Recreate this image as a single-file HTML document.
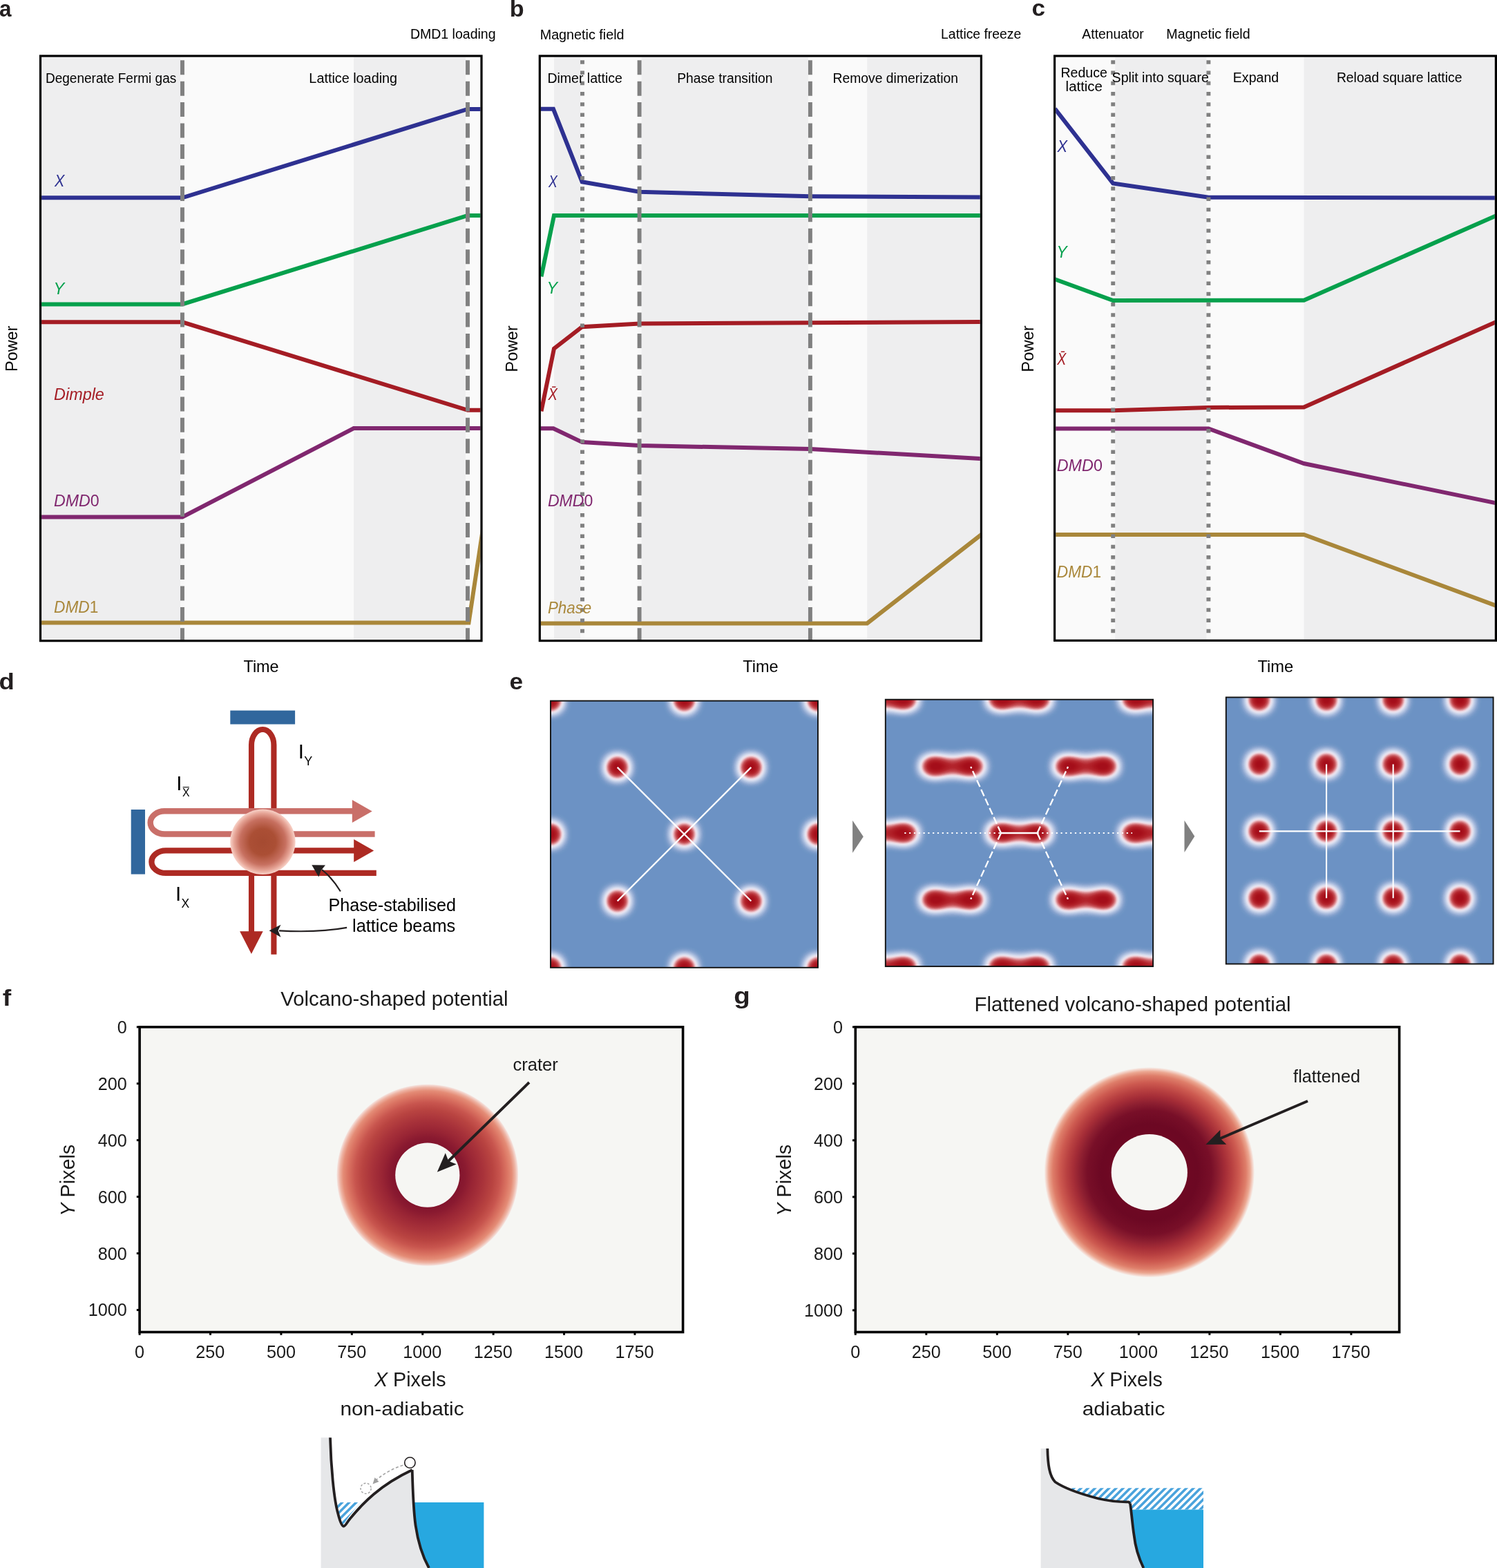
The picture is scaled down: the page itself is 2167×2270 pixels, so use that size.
<!DOCTYPE html>
<html><head><meta charset="utf-8"><title>Figure</title>
<style>
html,body{margin:0;padding:0;background:#fff;}
body{width:2167px;height:2270px;overflow:hidden;}
svg{display:block;font-family:'Liberation Sans', Arial, Helvetica, sans-serif;}
</style></head><body>
<svg xmlns="http://www.w3.org/2000/svg" width="2167" height="2270" viewBox="0 0 2167 2270">
<defs>
<clipPath id="clip58"><rect x="60.1" y="82.6" width="635.3" height="843.5"/></clipPath>
<clipPath id="clip781"><rect x="782.9" y="82.6" width="635.9" height="843.4"/></clipPath>
<clipPath id="clip1526"><rect x="1528.2" y="82.6" width="635.6" height="843.1"/></clipPath>
<radialGradient id="cloud" cx="0.5" cy="0.5" r="0.5"><stop offset="0" stop-color="#a54a31"/><stop offset="0.4" stop-color="#ab4f35"/><stop offset="0.7" stop-color="#c77060"/><stop offset="0.88" stop-color="#e6a496"/><stop offset="1" stop-color="#f8d2c8"/></radialGradient>
<filter id="latf" x="0" y="0" width="1" height="1" filterUnits="objectBoundingBox" color-interpolation-filters="sRGB"><feGaussianBlur stdDeviation="9"/><feComponentTransfer><feFuncR type="gamma" amplitude="1" exponent="0.4" offset="0"/><feFuncG type="gamma" amplitude="1" exponent="0.4" offset="0"/><feFuncB type="gamma" amplitude="1" exponent="0.4" offset="0"/></feComponentTransfer><feComponentTransfer><feFuncR type="table" tableValues="0.424 0.424 0.424 0.424 0.424 0.424 0.424 0.424 0.424 0.424 0.424 0.424 0.424 0.424 0.424 0.424 0.424 0.424 0.424 0.424 0.424 0.427 0.429 0.431 0.434 0.436 0.439 0.441 0.443 0.446 0.448 0.451 0.456 0.462 0.468 0.475 0.481 0.487 0.493 0.499 0.505 0.511 0.518 0.524 0.530 0.539 0.549 0.558 0.567 0.576 0.586 0.595 0.604 0.614 0.623 0.632 0.641 0.651 0.662 0.672 0.683 0.694 0.704 0.715 0.726 0.736 0.747 0.758 0.768 0.779 0.790 0.801 0.812 0.823 0.833 0.844 0.855 0.866 0.875 0.883 0.891 0.898 0.906 0.914 0.922 0.926 0.927 0.928 0.929 0.931 0.932 0.933 0.928 0.920 0.912 0.904 0.895 0.887 0.879 0.869 0.860 0.850 0.840 0.830 0.820 0.810 0.800 0.791 0.781 0.773 0.766 0.759 0.753 0.746 0.739 0.733 0.726 0.719 0.713 0.706 0.702 0.698 0.694 0.690 0.686 0.682 0.678 0.675 0.671 0.667 0.662 0.658 0.654 0.650 0.647 0.647 0.647 0.647 0.647 0.647 0.647 0.647 0.647 0.647 0.647 0.647 0.647 0.647 0.647 0.647 0.647 0.647 0.647 0.647 0.647 0.647 0.647 0.647 0.647 0.647"/><feFuncG type="table" tableValues="0.576 0.576 0.576 0.576 0.576 0.576 0.576 0.576 0.576 0.576 0.576 0.576 0.576 0.576 0.576 0.576 0.576 0.576 0.576 0.576 0.577 0.578 0.580 0.581 0.582 0.584 0.585 0.586 0.588 0.589 0.591 0.592 0.595 0.599 0.603 0.606 0.610 0.614 0.617 0.621 0.625 0.628 0.632 0.636 0.640 0.646 0.653 0.660 0.667 0.674 0.680 0.687 0.694 0.701 0.708 0.714 0.721 0.729 0.736 0.744 0.752 0.760 0.768 0.776 0.784 0.792 0.800 0.808 0.815 0.822 0.829 0.836 0.842 0.849 0.856 0.862 0.869 0.876 0.879 0.880 0.881 0.882 0.884 0.885 0.886 0.878 0.864 0.849 0.834 0.820 0.805 0.790 0.766 0.737 0.708 0.678 0.649 0.620 0.591 0.564 0.537 0.511 0.484 0.458 0.431 0.405 0.378 0.352 0.325 0.305 0.289 0.274 0.258 0.243 0.227 0.212 0.196 0.180 0.165 0.149 0.142 0.135 0.128 0.121 0.114 0.107 0.100 0.093 0.086 0.079 0.073 0.068 0.063 0.058 0.055 0.055 0.055 0.055 0.055 0.055 0.055 0.055 0.055 0.055 0.055 0.055 0.055 0.055 0.055 0.055 0.055 0.055 0.055 0.055 0.055 0.055 0.055 0.055 0.055 0.055"/><feFuncB type="table" tableValues="0.769 0.769 0.769 0.769 0.769 0.769 0.769 0.769 0.769 0.769 0.769 0.769 0.769 0.769 0.769 0.769 0.769 0.769 0.769 0.769 0.769 0.770 0.771 0.772 0.773 0.774 0.775 0.776 0.777 0.778 0.779 0.780 0.782 0.784 0.786 0.789 0.791 0.793 0.795 0.797 0.799 0.802 0.804 0.806 0.808 0.812 0.817 0.821 0.825 0.830 0.834 0.838 0.843 0.847 0.851 0.856 0.860 0.864 0.868 0.873 0.877 0.881 0.885 0.889 0.893 0.897 0.901 0.906 0.910 0.913 0.916 0.920 0.923 0.926 0.930 0.933 0.936 0.940 0.940 0.938 0.935 0.933 0.931 0.929 0.927 0.917 0.901 0.885 0.869 0.854 0.838 0.822 0.797 0.767 0.736 0.706 0.675 0.645 0.614 0.587 0.561 0.534 0.508 0.481 0.455 0.428 0.402 0.375 0.349 0.329 0.314 0.299 0.284 0.270 0.255 0.240 0.225 0.210 0.196 0.181 0.174 0.168 0.162 0.155 0.149 0.143 0.137 0.130 0.124 0.118 0.114 0.111 0.108 0.104 0.102 0.102 0.102 0.102 0.102 0.102 0.102 0.102 0.102 0.102 0.102 0.102 0.102 0.102 0.102 0.102 0.102 0.102 0.102 0.102 0.102 0.102 0.102 0.102 0.102 0.102"/><feFuncA type="linear" slope="0" intercept="1"/></feComponentTransfer></filter>
<clipPath id="eclip1"><rect x="797" y="1014.6" width="387" height="386.2"/></clipPath>
<clipPath id="eclip2"><rect x="1281.8" y="1012.7" width="387.3" height="386.4"/></clipPath>
<clipPath id="eclip3"><rect x="1774.8" y="1009.5" width="386.8" height="386"/></clipPath>
<radialGradient id="donf" cx="0.5" cy="0.5" r="0.5"><stop offset="0.0000" stop-color="#82142d"/><stop offset="0.3490" stop-color="#82142d"/><stop offset="0.4173" stop-color="#8a1a30"/><stop offset="0.4932" stop-color="#982434"/><stop offset="0.6070" stop-color="#a8323a"/><stop offset="0.7208" stop-color="#b94441"/><stop offset="0.7967" stop-color="#c8554e"/><stop offset="0.8725" stop-color="#da7362"/><stop offset="0.9256" stop-color="#e48c76"/><stop offset="0.9636" stop-color="#eeb4a4"/><stop offset="0.9901" stop-color="#f4dcd6"/><stop offset="1.0000" stop-color="#f6f6f3"/></radialGradient>
<radialGradient id="dong" cx="0.5" cy="0.5" r="0.5"><stop offset="0.0000" stop-color="#6e0823"/><stop offset="0.3574" stop-color="#6e0823"/><stop offset="0.4590" stop-color="#6c0823"/><stop offset="0.5902" stop-color="#780f28"/><stop offset="0.6557" stop-color="#8c1e30"/><stop offset="0.7213" stop-color="#a52d37"/><stop offset="0.7869" stop-color="#b94141"/><stop offset="0.8525" stop-color="#cd5a50"/><stop offset="0.9180" stop-color="#de7d69"/><stop offset="0.9574" stop-color="#eba690"/><stop offset="0.9836" stop-color="#f4d6cc"/><stop offset="1.0000" stop-color="#f6f6f3"/></radialGradient>
<pattern id="hatch" patternUnits="userSpaceOnUse" width="7.2" height="7.2" patternTransform="rotate(45)"><rect width="3.6" height="7.2" fill="#4aa3dc"/></pattern>
</defs>
<rect width="2167" height="2270" fill="#fff"/>
<text x="-0.92" y="23.7" font-size="32.5" fill="#231f20" textLength="17.52" lengthAdjust="spacingAndGlyphs" font-weight="bold">a</text>
<rect x="60" y="82.6" width="204" height="843.5" fill="#eeeeef"/>
<rect x="264" y="82.6" width="248" height="843.5" fill="#fafafa"/>
<rect x="512" y="82.6" width="165" height="843.5" fill="#eeeeef"/>
<rect x="677" y="82.6" width="19" height="843.5" fill="#fafafa"/>
<line x1="264" y1="82.6" x2="264" y2="926.1" stroke="#f8f8f8" stroke-width="6"/>
<line x1="677" y1="82.6" x2="677" y2="926.1" stroke="#f8f8f8" stroke-width="6"/>
<polyline points="58,286.3 264,286.3 677,158 699,158" fill="none" stroke="#2e3191" stroke-width="6" stroke-linejoin="miter" stroke-miterlimit="4" clip-path="url(#clip58)"/>
<polyline points="58,440.4 264,440.4 677,312 699,312" fill="none" stroke="#05a04c" stroke-width="6" stroke-linejoin="miter" stroke-miterlimit="4" clip-path="url(#clip58)"/>
<polyline points="58,466.3 264,466.3 677,593.8 699,593.8" fill="none" stroke="#a41c24" stroke-width="6" stroke-linejoin="miter" stroke-miterlimit="4" clip-path="url(#clip58)"/>
<polyline points="58,748.5 264,748.5 512,620 699,620" fill="none" stroke="#80276f" stroke-width="6" stroke-linejoin="miter" stroke-miterlimit="4" clip-path="url(#clip58)"/>
<polyline points="58,901.6 678.5,901.6 699,766" fill="none" stroke="#a9873a" stroke-width="6" stroke-linejoin="miter" stroke-miterlimit="4" clip-path="url(#clip58)"/>
<line x1="264" y1="87.2" x2="264" y2="926.1" stroke="#808080" stroke-width="5.9" stroke-dasharray="21 9.45"/>
<line x1="677" y1="87.2" x2="677" y2="926.1" stroke="#808080" stroke-width="5.9" stroke-dasharray="21 9.45"/>
<rect x="58.5" y="81" width="638.5" height="846.7" fill="none" stroke="#000" stroke-width="3.2"/>
<text x="78.91" y="270.3" font-size="24.2" fill="#2e3191" textLength="14.41" lengthAdjust="spacingAndGlyphs" font-style="italic">X</text>
<text x="77.55" y="425.6" font-size="24.2" fill="#05a04c" textLength="15.74" lengthAdjust="spacingAndGlyphs" font-style="italic">Y</text>
<text x="78.08" y="579.1" font-size="24.2" fill="#a41c24" textLength="72.79" lengthAdjust="spacingAndGlyphs" font-style="italic">Dimple</text>
<text x="77.99" y="733" font-size="24.2" fill="#80276f" textLength="65.72" lengthAdjust="spacingAndGlyphs"><tspan font-style="italic">DMD</tspan><tspan font-style="normal">0</tspan></text>
<text x="78" y="887.4" font-size="24.2" fill="#a9873a" textLength="64.31" lengthAdjust="spacingAndGlyphs"><tspan font-style="italic">DMD</tspan><tspan font-style="normal">1</tspan></text>
<text x="65.94" y="119.7" font-size="19.5" fill="#000" textLength="189.35" lengthAdjust="spacingAndGlyphs">Degenerate Fermi gas</text>
<text x="447.38" y="119.8" font-size="19.5" fill="#000" textLength="127.7" lengthAdjust="spacingAndGlyphs">Lattice loading</text>
<text x="593.9" y="56" font-size="19.5" fill="#000" textLength="123.66" lengthAdjust="spacingAndGlyphs">DMD1 loading</text>
<text transform="translate(25.4,504) rotate(-90)" x="-33.92" y="0" font-size="24" fill="#000" textLength="66.31" lengthAdjust="spacingAndGlyphs">Power</text>
<text x="352.48" y="973.2" font-size="24" fill="#000" textLength="51.14" lengthAdjust="spacingAndGlyphs">Time</text>
<text x="737.65" y="23.5" font-size="32.5" fill="#231f20" textLength="20.85" lengthAdjust="spacingAndGlyphs" font-weight="bold">b</text>
<rect x="782" y="82.6" width="20" height="843.4" fill="#fafafa"/>
<rect x="802" y="82.6" width="41" height="843.4" fill="#eeeeef"/>
<rect x="843" y="82.6" width="82.6" height="843.4" fill="#fafafa"/>
<rect x="925.6" y="82.6" width="247.4" height="843.4" fill="#eeeeef"/>
<rect x="1173" y="82.6" width="82.2" height="843.4" fill="#fafafa"/>
<rect x="1255.2" y="82.6" width="164.3" height="843.4" fill="#eeeeef"/>
<line x1="843" y1="82.6" x2="843" y2="926" stroke="#f8f8f8" stroke-width="6"/>
<line x1="925.6" y1="82.6" x2="925.6" y2="926" stroke="#f8f8f8" stroke-width="6"/>
<line x1="1172.9" y1="82.6" x2="1172.9" y2="926" stroke="#f8f8f8" stroke-width="6"/>
<polyline points="780,157.8 801,157.8 842.6,263.3 925.6,277.8 1173,284.2 1422,285.5" fill="none" stroke="#2e3191" stroke-width="6" stroke-linejoin="miter" stroke-miterlimit="4" clip-path="url(#clip781)"/>
<polyline points="783.5,400.3 802,312 1422,312" fill="none" stroke="#05a04c" stroke-width="6" stroke-linejoin="miter" stroke-miterlimit="4" clip-path="url(#clip781)"/>
<polyline points="783.5,595.4 802,504.7 842.6,473.2 925.6,468.5 1422,466" fill="none" stroke="#a41c24" stroke-width="6" stroke-linejoin="miter" stroke-miterlimit="4" clip-path="url(#clip781)"/>
<polyline points="780,620.3 801,620.3 842.6,640.1 925.6,645 1173,650.1 1422,664.2" fill="none" stroke="#80276f" stroke-width="6" stroke-linejoin="miter" stroke-miterlimit="4" clip-path="url(#clip781)"/>
<polyline points="780,902.4 1255.2,902.4 1422,772.8" fill="none" stroke="#a9873a" stroke-width="6" stroke-linejoin="miter" stroke-miterlimit="4" clip-path="url(#clip781)"/>
<line x1="843" y1="87.2" x2="843" y2="926" stroke="#808080" stroke-width="5.9" stroke-dasharray="5.6 9.65"/>
<line x1="925.6" y1="87.2" x2="925.6" y2="926" stroke="#808080" stroke-width="5.9" stroke-dasharray="21 9.45"/>
<line x1="1172.9" y1="87.2" x2="1172.9" y2="926" stroke="#808080" stroke-width="5.9" stroke-dasharray="21 9.45"/>
<rect x="781.3" y="81" width="639.1" height="846.6" fill="none" stroke="#000" stroke-width="3.2"/>
<text x="793.97" y="270.8" font-size="24.2" fill="#2e3191" textLength="12.83" lengthAdjust="spacingAndGlyphs" font-style="italic">X</text>
<text x="791.58" y="424.8" font-size="24.2" fill="#05a04c" textLength="15.52" lengthAdjust="spacingAndGlyphs" font-style="italic">Y</text>
<text x="793.38" y="579.4" font-size="24.2" fill="#a41c24" textLength="13.39" lengthAdjust="spacingAndGlyphs" font-style="italic">X̄</text>
<text x="792.89" y="732.9" font-size="24.2" fill="#80276f" textLength="65.51" lengthAdjust="spacingAndGlyphs"><tspan font-style="italic">DMD</tspan><tspan font-style="normal">0</tspan></text>
<text x="792.91" y="887.6" font-size="24.2" fill="#a9873a" textLength="63.32" lengthAdjust="spacingAndGlyphs" font-style="italic">Phase</text>
<text x="781.68" y="56.5" font-size="19.5" fill="#000" textLength="121.89" lengthAdjust="spacingAndGlyphs">Magnetic field</text>
<text x="1362.11" y="55.9" font-size="19.5" fill="#000" textLength="116.15" lengthAdjust="spacingAndGlyphs">Lattice freeze</text>
<text x="792.4" y="119.8" font-size="19.5" fill="#000" textLength="108.47" lengthAdjust="spacingAndGlyphs">Dimer lattice</text>
<text x="980.22" y="119.85" font-size="19.5" fill="#000" textLength="138.13" lengthAdjust="spacingAndGlyphs">Phase transition</text>
<text x="1205.62" y="119.8" font-size="19.5" fill="#000" textLength="181.34" lengthAdjust="spacingAndGlyphs">Remove dimerization</text>
<text transform="translate(748.8,504.2) rotate(-90)" x="-34.45" y="0" font-size="24" fill="#000" textLength="67.34" lengthAdjust="spacingAndGlyphs">Power</text>
<text x="1075.28" y="973.1" font-size="24" fill="#000" textLength="51.45" lengthAdjust="spacingAndGlyphs">Time</text>
<text x="1493.53" y="23" font-size="32.5" fill="#231f20" textLength="19.5" lengthAdjust="spacingAndGlyphs" font-weight="bold">c</text>
<rect x="1528" y="82.6" width="83.2" height="843.1" fill="#fafafa"/>
<rect x="1611.2" y="82.6" width="138.2" height="843.1" fill="#eeeeef"/>
<rect x="1749.4" y="82.6" width="138.1" height="843.1" fill="#fafafa"/>
<rect x="1887.5" y="82.6" width="276.5" height="843.1" fill="#eeeeef"/>
<line x1="1611.2" y1="82.6" x2="1611.2" y2="925.7" stroke="#f8f8f8" stroke-width="6"/>
<line x1="1749.4" y1="82.6" x2="1749.4" y2="925.7" stroke="#f8f8f8" stroke-width="6"/>
<polyline points="1527,157.3 1611.2,265.5 1749.4,285.7 2167,286.4" fill="none" stroke="#2e3191" stroke-width="6" stroke-linejoin="miter" stroke-miterlimit="4" clip-path="url(#clip1526)"/>
<polyline points="1527,404.2 1611.2,435 1887.5,434.7 2167,311.7" fill="none" stroke="#05a04c" stroke-width="6" stroke-linejoin="miter" stroke-miterlimit="4" clip-path="url(#clip1526)"/>
<polyline points="1527,594.3 1611.2,594.3 1749.4,590 1887.5,589.4 2167,465.4" fill="none" stroke="#a41c24" stroke-width="6" stroke-linejoin="miter" stroke-miterlimit="4" clip-path="url(#clip1526)"/>
<polyline points="1527,620.5 1749.4,620.5 1887.5,671 2167,728.6" fill="none" stroke="#80276f" stroke-width="6" stroke-linejoin="miter" stroke-miterlimit="4" clip-path="url(#clip1526)"/>
<polyline points="1527,773.9 1887.5,773.9 2167,877.3" fill="none" stroke="#a9873a" stroke-width="6" stroke-linejoin="miter" stroke-miterlimit="4" clip-path="url(#clip1526)"/>
<line x1="1611.2" y1="87.2" x2="1611.2" y2="925.7" stroke="#808080" stroke-width="5.9" stroke-dasharray="5.6 9.65"/>
<line x1="1749.4" y1="87.2" x2="1749.4" y2="925.7" stroke="#808080" stroke-width="5.9" stroke-dasharray="5.6 9.65"/>
<rect x="1526.6" y="81" width="638.8" height="846.3" fill="none" stroke="#000" stroke-width="3.2"/>
<text x="1530.42" y="219.6" font-size="24.2" fill="#2e3191" textLength="14.6" lengthAdjust="spacingAndGlyphs" font-style="italic">X</text>
<text x="1529.43" y="373" font-size="24.2" fill="#05a04c" textLength="15.2" lengthAdjust="spacingAndGlyphs" font-style="italic">Y</text>
<text x="1530.37" y="528.2" font-size="24.2" fill="#a41c24" textLength="13.02" lengthAdjust="spacingAndGlyphs" font-style="italic">X̄</text>
<text x="1529.78" y="681.7" font-size="24.2" fill="#80276f" textLength="66.13" lengthAdjust="spacingAndGlyphs"><tspan font-style="italic">DMD</tspan><tspan font-style="normal">0</tspan></text>
<text x="1529.8" y="836.4" font-size="24.2" fill="#a9873a" textLength="64.31" lengthAdjust="spacingAndGlyphs"><tspan font-style="italic">DMD</tspan><tspan font-style="normal">1</tspan></text>
<text x="1566.36" y="55.9" font-size="19.5" fill="#000" textLength="89.26" lengthAdjust="spacingAndGlyphs">Attenuator</text>
<text x="1688.39" y="55.9" font-size="19.5" fill="#000" textLength="121.28" lengthAdjust="spacingAndGlyphs">Magnetic field</text>
<text x="1535.39" y="112.4" font-size="19.5" fill="#000" textLength="67.48" lengthAdjust="spacingAndGlyphs">Reduce</text>
<text x="1542.63" y="132.2" font-size="19.5" fill="#000" textLength="53.28" lengthAdjust="spacingAndGlyphs">lattice</text>
<text x="1609.61" y="119.4" font-size="19.5" fill="#000" textLength="140.26" lengthAdjust="spacingAndGlyphs">Split into square</text>
<text x="1784.79" y="119.4" font-size="19.5" fill="#000" textLength="66.47" lengthAdjust="spacingAndGlyphs">Expand</text>
<text x="1934.91" y="119.4" font-size="19.5" fill="#000" textLength="181.54" lengthAdjust="spacingAndGlyphs">Reload square lattice</text>
<text transform="translate(1495.5,504.2) rotate(-90)" x="-34.45" y="0" font-size="24" fill="#000" textLength="67.34" lengthAdjust="spacingAndGlyphs">Power</text>
<text x="1820.48" y="972.9" font-size="24" fill="#000" textLength="51.86" lengthAdjust="spacingAndGlyphs">Time</text>
<text x="-1.5" y="998.1" font-size="32.5" fill="#231f20" textLength="22.3" lengthAdjust="spacingAndGlyphs" font-weight="bold">d</text>
<rect x="333.3" y="1028.6" width="93.8" height="19.9" fill="#31679d"/>
<rect x="189.7" y="1172" width="20.3" height="93.6" fill="#31679d"/>
<path d="M364 1350 L364 1078.4 A16.2 22.4 0 0 1 396.4 1078.4 L396.4 1381.7" fill="none" stroke="#ad2a23" stroke-width="8.1"/>
<polygon points="347.1,1348.3 380.7,1348.3 363.9,1380.9" fill="#ad2a23"/>
<path d="M511 1174.3 L238.1 1174.3 A20.5 16.6 0 0 0 238.1 1207.5 L542.6 1207.5" fill="none" stroke="#c96f69" stroke-width="8.4"/>
<polygon points="509.8,1157.9 509.8,1190.9 538.7,1174.4" fill="#c96f69"/>
<path d="M513 1231.4 L240 1231.4 A20.6 16.25 0 0 0 240 1263.9 L544.8 1263.9" fill="none" stroke="#ad2a23" stroke-width="8.3"/>
<polygon points="512.2,1215 512.2,1248 541.2,1231.5" fill="#ad2a23"/>
<circle cx="380.4" cy="1218.8" r="47.2" fill="url(#cloud)"/>
<text x="431.8" y="1098.1" font-size="29.5">I<tspan font-size="18" dx="0.3" dy="9.4">Y</tspan></text>
<text x="255.2" y="1143.8" font-size="29.5">I<tspan font-size="15.8" dx="0.5" dy="8.8">X̅</tspan></text>
<text x="253.9" y="1304.1" font-size="29.5">I<tspan font-size="17.5" dx="0.3" dy="9.7">X</tspan></text>
<path d="M492.9 1290.5 Q481 1271 466 1259" fill="none" stroke="#231f20" stroke-width="2.2"/>
<polygon points="451.3,1252.2 471,1252.6 464.5,1260.5 461.3,1269.5" fill="#231f20"/>
<path d="M502.1 1342.8 Q460 1350.5 404 1347.3" fill="none" stroke="#231f20" stroke-width="2.2"/>
<polygon points="389.6,1347.3 406.5,1338.8 402.5,1347.3 406.5,1356.8" fill="#231f20"/>
<text x="475.44" y="1319" font-size="25.2" fill="#000" textLength="184.59" lengthAdjust="spacingAndGlyphs">Phase-stabilised</text>
<text x="510.09" y="1348.5" font-size="25.2" fill="#000" textLength="149.22" lengthAdjust="spacingAndGlyphs">lattice beams</text>
<text x="737.62" y="998.2" font-size="32.5" fill="#231f20" textLength="19.58" lengthAdjust="spacingAndGlyphs" font-weight="bold">e</text>
<g clip-path="url(#eclip1)"><g filter="url(#latf)">
<rect x="737" y="954.6" width="507" height="506.2" fill="#000"/>
<circle cx="700.1" cy="917.3" r="13" fill="#fff"/>
<circle cx="700.1" cy="1110.9" r="13" fill="#fff"/>
<circle cx="700.1" cy="1304.5" r="13" fill="#fff"/>
<circle cx="700.1" cy="1498.1" r="13" fill="#fff"/>
<circle cx="796.9" cy="1014.1" r="13" fill="#fff"/>
<circle cx="796.9" cy="1207.7" r="13" fill="#fff"/>
<circle cx="796.9" cy="1401.3" r="13" fill="#fff"/>
<circle cx="893.7" cy="917.3" r="13" fill="#fff"/>
<circle cx="893.7" cy="1110.9" r="13" fill="#fff"/>
<circle cx="893.7" cy="1304.5" r="13" fill="#fff"/>
<circle cx="893.7" cy="1498.1" r="13" fill="#fff"/>
<circle cx="990.5" cy="1014.1" r="13" fill="#fff"/>
<circle cx="990.5" cy="1207.7" r="13" fill="#fff"/>
<circle cx="990.5" cy="1401.3" r="13" fill="#fff"/>
<circle cx="1087.3" cy="917.3" r="13" fill="#fff"/>
<circle cx="1087.3" cy="1110.9" r="13" fill="#fff"/>
<circle cx="1087.3" cy="1304.5" r="13" fill="#fff"/>
<circle cx="1087.3" cy="1498.1" r="13" fill="#fff"/>
<circle cx="1184.1" cy="1014.1" r="13" fill="#fff"/>
<circle cx="1184.1" cy="1207.7" r="13" fill="#fff"/>
<circle cx="1184.1" cy="1401.3" r="13" fill="#fff"/>
<circle cx="1280.9" cy="917.3" r="13" fill="#fff"/>
<circle cx="1280.9" cy="1110.9" r="13" fill="#fff"/>
<circle cx="1280.9" cy="1304.5" r="13" fill="#fff"/>
<circle cx="1280.9" cy="1498.1" r="13" fill="#fff"/>
</g>
<line x1="893.7" y1="1110.9" x2="1087.3" y2="1304.5" stroke="#fff" stroke-width="2.3"/>
<line x1="1087.3" y1="1110.9" x2="893.7" y2="1304.5" stroke="#fff" stroke-width="2.3"/>
</g>
<rect x="797" y="1014.6" width="387" height="386.2" fill="none" stroke="#111" stroke-width="1.9"/>
<polygon points="1234.1,1187.8 1234.1,1234.7 1249.8,1211.2" fill="#808080"/>
<g clip-path="url(#eclip2)"><g filter="url(#latf)">
<rect x="1221.8" y="952.7" width="507.3" height="506.4" fill="#000"/>
<ellipse cx="1158.7" cy="916.2" rx="16" ry="10.5" fill="#fff"/>
<ellipse cx="1212.7" cy="916.2" rx="16" ry="10.5" fill="#fff"/>
<rect x="1158.7" y="907.7" width="54" height="17" fill="#fff" fill-opacity="0.7"/>
<ellipse cx="1158.7" cy="1109.4" rx="16" ry="10.5" fill="#fff"/>
<ellipse cx="1212.7" cy="1109.4" rx="16" ry="10.5" fill="#fff"/>
<rect x="1158.7" y="1100.9" width="54" height="17" fill="#fff" fill-opacity="0.7"/>
<ellipse cx="1158.7" cy="1302.6" rx="16" ry="10.5" fill="#fff"/>
<ellipse cx="1212.7" cy="1302.6" rx="16" ry="10.5" fill="#fff"/>
<rect x="1158.7" y="1294.1" width="54" height="17" fill="#fff" fill-opacity="0.7"/>
<ellipse cx="1158.7" cy="1495.8" rx="16" ry="10.5" fill="#fff"/>
<ellipse cx="1212.7" cy="1495.8" rx="16" ry="10.5" fill="#fff"/>
<rect x="1158.7" y="1487.3" width="54" height="17" fill="#fff" fill-opacity="0.7"/>
<ellipse cx="1255.3" cy="1012.8" rx="16" ry="10.5" fill="#fff"/>
<ellipse cx="1309.3" cy="1012.8" rx="16" ry="10.5" fill="#fff"/>
<rect x="1255.3" y="1004.3" width="54" height="17" fill="#fff" fill-opacity="0.7"/>
<ellipse cx="1255.3" cy="1206" rx="16" ry="10.5" fill="#fff"/>
<ellipse cx="1309.3" cy="1206" rx="16" ry="10.5" fill="#fff"/>
<rect x="1255.3" y="1197.5" width="54" height="17" fill="#fff" fill-opacity="0.7"/>
<ellipse cx="1255.3" cy="1399.2" rx="16" ry="10.5" fill="#fff"/>
<ellipse cx="1309.3" cy="1399.2" rx="16" ry="10.5" fill="#fff"/>
<rect x="1255.3" y="1390.7" width="54" height="17" fill="#fff" fill-opacity="0.7"/>
<ellipse cx="1351.9" cy="916.2" rx="16" ry="10.5" fill="#fff"/>
<ellipse cx="1405.9" cy="916.2" rx="16" ry="10.5" fill="#fff"/>
<rect x="1351.9" y="907.7" width="54" height="17" fill="#fff" fill-opacity="0.7"/>
<ellipse cx="1351.9" cy="1109.4" rx="16" ry="10.5" fill="#fff"/>
<ellipse cx="1405.9" cy="1109.4" rx="16" ry="10.5" fill="#fff"/>
<rect x="1351.9" y="1100.9" width="54" height="17" fill="#fff" fill-opacity="0.7"/>
<ellipse cx="1351.9" cy="1302.6" rx="16" ry="10.5" fill="#fff"/>
<ellipse cx="1405.9" cy="1302.6" rx="16" ry="10.5" fill="#fff"/>
<rect x="1351.9" y="1294.1" width="54" height="17" fill="#fff" fill-opacity="0.7"/>
<ellipse cx="1351.9" cy="1495.8" rx="16" ry="10.5" fill="#fff"/>
<ellipse cx="1405.9" cy="1495.8" rx="16" ry="10.5" fill="#fff"/>
<rect x="1351.9" y="1487.3" width="54" height="17" fill="#fff" fill-opacity="0.7"/>
<ellipse cx="1448.5" cy="1012.8" rx="16" ry="10.5" fill="#fff"/>
<ellipse cx="1502.5" cy="1012.8" rx="16" ry="10.5" fill="#fff"/>
<rect x="1448.5" y="1004.3" width="54" height="17" fill="#fff" fill-opacity="0.7"/>
<ellipse cx="1448.5" cy="1206" rx="16" ry="10.5" fill="#fff"/>
<ellipse cx="1502.5" cy="1206" rx="16" ry="10.5" fill="#fff"/>
<rect x="1448.5" y="1197.5" width="54" height="17" fill="#fff" fill-opacity="0.7"/>
<ellipse cx="1448.5" cy="1399.2" rx="16" ry="10.5" fill="#fff"/>
<ellipse cx="1502.5" cy="1399.2" rx="16" ry="10.5" fill="#fff"/>
<rect x="1448.5" y="1390.7" width="54" height="17" fill="#fff" fill-opacity="0.7"/>
<ellipse cx="1545.1" cy="916.2" rx="16" ry="10.5" fill="#fff"/>
<ellipse cx="1599.1" cy="916.2" rx="16" ry="10.5" fill="#fff"/>
<rect x="1545.1" y="907.7" width="54" height="17" fill="#fff" fill-opacity="0.7"/>
<ellipse cx="1545.1" cy="1109.4" rx="16" ry="10.5" fill="#fff"/>
<ellipse cx="1599.1" cy="1109.4" rx="16" ry="10.5" fill="#fff"/>
<rect x="1545.1" y="1100.9" width="54" height="17" fill="#fff" fill-opacity="0.7"/>
<ellipse cx="1545.1" cy="1302.6" rx="16" ry="10.5" fill="#fff"/>
<ellipse cx="1599.1" cy="1302.6" rx="16" ry="10.5" fill="#fff"/>
<rect x="1545.1" y="1294.1" width="54" height="17" fill="#fff" fill-opacity="0.7"/>
<ellipse cx="1545.1" cy="1495.8" rx="16" ry="10.5" fill="#fff"/>
<ellipse cx="1599.1" cy="1495.8" rx="16" ry="10.5" fill="#fff"/>
<rect x="1545.1" y="1487.3" width="54" height="17" fill="#fff" fill-opacity="0.7"/>
<ellipse cx="1641.7" cy="1012.8" rx="16" ry="10.5" fill="#fff"/>
<ellipse cx="1695.7" cy="1012.8" rx="16" ry="10.5" fill="#fff"/>
<rect x="1641.7" y="1004.3" width="54" height="17" fill="#fff" fill-opacity="0.7"/>
<ellipse cx="1641.7" cy="1206" rx="16" ry="10.5" fill="#fff"/>
<ellipse cx="1695.7" cy="1206" rx="16" ry="10.5" fill="#fff"/>
<rect x="1641.7" y="1197.5" width="54" height="17" fill="#fff" fill-opacity="0.7"/>
<ellipse cx="1641.7" cy="1399.2" rx="16" ry="10.5" fill="#fff"/>
<ellipse cx="1695.7" cy="1399.2" rx="16" ry="10.5" fill="#fff"/>
<rect x="1641.7" y="1390.7" width="54" height="17" fill="#fff" fill-opacity="0.7"/>
<ellipse cx="1738.3" cy="916.2" rx="16" ry="10.5" fill="#fff"/>
<ellipse cx="1792.3" cy="916.2" rx="16" ry="10.5" fill="#fff"/>
<rect x="1738.3" y="907.7" width="54" height="17" fill="#fff" fill-opacity="0.7"/>
<ellipse cx="1738.3" cy="1109.4" rx="16" ry="10.5" fill="#fff"/>
<ellipse cx="1792.3" cy="1109.4" rx="16" ry="10.5" fill="#fff"/>
<rect x="1738.3" y="1100.9" width="54" height="17" fill="#fff" fill-opacity="0.7"/>
<ellipse cx="1738.3" cy="1302.6" rx="16" ry="10.5" fill="#fff"/>
<ellipse cx="1792.3" cy="1302.6" rx="16" ry="10.5" fill="#fff"/>
<rect x="1738.3" y="1294.1" width="54" height="17" fill="#fff" fill-opacity="0.7"/>
<ellipse cx="1738.3" cy="1495.8" rx="16" ry="10.5" fill="#fff"/>
<ellipse cx="1792.3" cy="1495.8" rx="16" ry="10.5" fill="#fff"/>
<rect x="1738.3" y="1487.3" width="54" height="17" fill="#fff" fill-opacity="0.7"/>
</g>
<line x1="1449" y1="1206" x2="1501.5" y2="1206" stroke="#fff" stroke-width="2.4"/>
<line x1="1309.3" y1="1206" x2="1449" y2="1206" stroke="#fff" stroke-width="2.2" stroke-dasharray="2.2 4.6"/>
<line x1="1501.5" y1="1206" x2="1639" y2="1206" stroke="#fff" stroke-width="2.2" stroke-dasharray="2.2 4.6"/>
<line x1="1449" y1="1206" x2="1405.2" y2="1110" stroke="#fff" stroke-width="2.3" stroke-dasharray="10.5 4.2"/>
<line x1="1501.5" y1="1206" x2="1546" y2="1110" stroke="#fff" stroke-width="2.3" stroke-dasharray="10.5 4.2"/>
<line x1="1449" y1="1206" x2="1405.2" y2="1301.8" stroke="#fff" stroke-width="2.3" stroke-dasharray="10.5 4.2"/>
<line x1="1501.5" y1="1206" x2="1546" y2="1301.8" stroke="#fff" stroke-width="2.3" stroke-dasharray="10.5 4.2"/>
</g>
<rect x="1281.8" y="1012.7" width="387.3" height="386.4" fill="none" stroke="#111" stroke-width="1.9"/>
<polygon points="1714.5,1187.8 1714.5,1234 1729.3,1210.7" fill="#808080"/>
<g clip-path="url(#eclip3)"><g filter="url(#latf)">
<rect x="1714.8" y="949.5" width="506.8" height="506" fill="#000"/>
<circle cx="1726" cy="916.5" r="13" fill="#fff"/>
<circle cx="1726" cy="1013.4" r="13" fill="#fff"/>
<circle cx="1726" cy="1106.4" r="13" fill="#fff"/>
<circle cx="1726" cy="1203.4" r="13" fill="#fff"/>
<circle cx="1726" cy="1300.2" r="13" fill="#fff"/>
<circle cx="1726" cy="1397" r="13" fill="#fff"/>
<circle cx="1822.8" cy="916.5" r="13" fill="#fff"/>
<circle cx="1822.8" cy="1013.4" r="13" fill="#fff"/>
<circle cx="1822.8" cy="1106.4" r="13" fill="#fff"/>
<circle cx="1822.8" cy="1203.4" r="13" fill="#fff"/>
<circle cx="1822.8" cy="1300.2" r="13" fill="#fff"/>
<circle cx="1822.8" cy="1397" r="13" fill="#fff"/>
<circle cx="1920.1" cy="916.5" r="13" fill="#fff"/>
<circle cx="1920.1" cy="1013.4" r="13" fill="#fff"/>
<circle cx="1920.1" cy="1106.4" r="13" fill="#fff"/>
<circle cx="1920.1" cy="1203.4" r="13" fill="#fff"/>
<circle cx="1920.1" cy="1300.2" r="13" fill="#fff"/>
<circle cx="1920.1" cy="1397" r="13" fill="#fff"/>
<circle cx="2016.7" cy="916.5" r="13" fill="#fff"/>
<circle cx="2016.7" cy="1013.4" r="13" fill="#fff"/>
<circle cx="2016.7" cy="1106.4" r="13" fill="#fff"/>
<circle cx="2016.7" cy="1203.4" r="13" fill="#fff"/>
<circle cx="2016.7" cy="1300.2" r="13" fill="#fff"/>
<circle cx="2016.7" cy="1397" r="13" fill="#fff"/>
<circle cx="2113.5" cy="916.5" r="13" fill="#fff"/>
<circle cx="2113.5" cy="1013.4" r="13" fill="#fff"/>
<circle cx="2113.5" cy="1106.4" r="13" fill="#fff"/>
<circle cx="2113.5" cy="1203.4" r="13" fill="#fff"/>
<circle cx="2113.5" cy="1300.2" r="13" fill="#fff"/>
<circle cx="2113.5" cy="1397" r="13" fill="#fff"/>
<circle cx="2210" cy="916.5" r="13" fill="#fff"/>
<circle cx="2210" cy="1013.4" r="13" fill="#fff"/>
<circle cx="2210" cy="1106.4" r="13" fill="#fff"/>
<circle cx="2210" cy="1203.4" r="13" fill="#fff"/>
<circle cx="2210" cy="1300.2" r="13" fill="#fff"/>
<circle cx="2210" cy="1397" r="13" fill="#fff"/>
</g>
<line x1="1822.8" y1="1203.4" x2="2113.5" y2="1203.4" stroke="#fff" stroke-width="2.1"/>
<line x1="1920.1" y1="1106.4" x2="1920.1" y2="1300.2" stroke="#fff" stroke-width="2.1"/>
<line x1="2016.7" y1="1106.4" x2="2016.7" y2="1300.2" stroke="#fff" stroke-width="2.1"/>
</g>
<rect x="1774.8" y="1009.5" width="386.8" height="386" fill="none" stroke="#111" stroke-width="1.9"/>
<rect x="202.1" y="1486.8" width="786.5" height="441.7" fill="#f6f6f3"/>
<circle cx="618.8" cy="1701.2" r="131.8" fill="url(#donf)"/>
<circle cx="618.8" cy="1701.2" r="46.6" fill="#f6f6f3"/>
<line x1="766" y1="1567" x2="648.48" y2="1681.52" stroke="#231f20" stroke-width="3.9"/>
<polygon points="632.8,1696.8 644.75,1669.23 649.2,1680.82 660.67,1685.56" fill="#231f20"/>
<text x="742.41" y="1549.9" font-size="25.2" fill="#1a1a1a" textLength="65.31" lengthAdjust="spacingAndGlyphs">crater</text>
<rect x="202.1" y="1486.8" width="786.5" height="441.7" fill="none" stroke="#000" stroke-width="3.6"/>
<line x1="202.1" y1="1928.5" x2="202.1" y2="1932.8" stroke="#000" stroke-width="3"/>
<text x="195.09" y="1965.6" font-size="25.2" fill="#1a1a1a" textLength="14.02" lengthAdjust="spacingAndGlyphs">0</text>
<line x1="304.51" y1="1928.5" x2="304.51" y2="1932.8" stroke="#000" stroke-width="3"/>
<text x="283.34" y="1965.6" font-size="25.2" fill="#1a1a1a" textLength="42.05" lengthAdjust="spacingAndGlyphs">250</text>
<line x1="406.92" y1="1928.5" x2="406.92" y2="1932.8" stroke="#000" stroke-width="3"/>
<text x="385.88" y="1965.6" font-size="25.2" fill="#1a1a1a" textLength="42.05" lengthAdjust="spacingAndGlyphs">500</text>
<line x1="509.33" y1="1928.5" x2="509.33" y2="1932.8" stroke="#000" stroke-width="3"/>
<text x="488.15" y="1965.6" font-size="25.2" fill="#1a1a1a" textLength="42.05" lengthAdjust="spacingAndGlyphs">750</text>
<line x1="611.74" y1="1928.5" x2="611.74" y2="1932.8" stroke="#000" stroke-width="3"/>
<text x="583.24" y="1965.6" font-size="25.2" fill="#1a1a1a" textLength="56.06" lengthAdjust="spacingAndGlyphs">1000</text>
<line x1="714.14" y1="1928.5" x2="714.14" y2="1932.8" stroke="#000" stroke-width="3"/>
<text x="685.65" y="1965.6" font-size="25.2" fill="#1a1a1a" textLength="56.06" lengthAdjust="spacingAndGlyphs">1250</text>
<line x1="816.55" y1="1928.5" x2="816.55" y2="1932.8" stroke="#000" stroke-width="3"/>
<text x="788.06" y="1965.6" font-size="25.2" fill="#1a1a1a" textLength="56.06" lengthAdjust="spacingAndGlyphs">1500</text>
<line x1="918.96" y1="1928.5" x2="918.96" y2="1932.8" stroke="#000" stroke-width="3"/>
<text x="890.46" y="1965.6" font-size="25.2" fill="#1a1a1a" textLength="56.06" lengthAdjust="spacingAndGlyphs">1750</text>
<line x1="197.8" y1="1486.8" x2="202.1" y2="1486.8" stroke="#000" stroke-width="3"/>
<text x="169.77" y="1495.8" font-size="25.2" fill="#1a1a1a" textLength="14.02" lengthAdjust="spacingAndGlyphs">0</text>
<line x1="197.8" y1="1568.73" x2="202.1" y2="1568.73" stroke="#000" stroke-width="3"/>
<text x="141.74" y="1577.73" font-size="25.2" fill="#1a1a1a" textLength="42.05" lengthAdjust="spacingAndGlyphs">200</text>
<line x1="197.8" y1="1650.65" x2="202.1" y2="1650.65" stroke="#000" stroke-width="3"/>
<text x="141.74" y="1659.65" font-size="25.2" fill="#1a1a1a" textLength="42.05" lengthAdjust="spacingAndGlyphs">400</text>
<line x1="197.8" y1="1732.58" x2="202.1" y2="1732.58" stroke="#000" stroke-width="3"/>
<text x="141.74" y="1741.58" font-size="25.2" fill="#1a1a1a" textLength="42.05" lengthAdjust="spacingAndGlyphs">600</text>
<line x1="197.8" y1="1814.51" x2="202.1" y2="1814.51" stroke="#000" stroke-width="3"/>
<text x="141.74" y="1823.51" font-size="25.2" fill="#1a1a1a" textLength="42.05" lengthAdjust="spacingAndGlyphs">800</text>
<line x1="197.8" y1="1896.44" x2="202.1" y2="1896.44" stroke="#000" stroke-width="3"/>
<text x="127.72" y="1905.44" font-size="25.2" fill="#1a1a1a" textLength="56.06" lengthAdjust="spacingAndGlyphs">1000</text>
<text x="541.95" y="2007" font-size="30" fill="#1a1a1a" textLength="103.59" lengthAdjust="spacingAndGlyphs"><tspan font-style="italic">X</tspan><tspan font-style="normal"> Pixels</tspan></text>
<text transform="translate(107.5,1707.8) rotate(-90)" x="-53" y="0" font-size="30" fill="#1a1a1a" textLength="104.04" lengthAdjust="spacingAndGlyphs"><tspan font-style="italic">Y</tspan> Pixels</text>
<text x="406.27" y="1455.7" font-size="30" fill="#1a1a1a" textLength="329.28" lengthAdjust="spacingAndGlyphs">Volcano-shaped potential</text>
<text x="492.42" y="2049.3" font-size="27.5" fill="#1a1a1a" textLength="179.27" lengthAdjust="spacingAndGlyphs">non-adiabatic</text>
<text x="3.86" y="1456.3" font-size="32.5" fill="#231f20" textLength="12.47" lengthAdjust="spacingAndGlyphs" font-weight="bold">f</text>
<rect x="1238.3" y="1486.8" width="787.3" height="441.7" fill="#f6f6f3"/>
<circle cx="1663.8" cy="1697.2" r="152.3" fill="url(#dong)"/>
<circle cx="1663.8" cy="1697.2" r="55.1" fill="#f6f6f3"/>
<line x1="1893" y1="1594" x2="1765.44" y2="1648.5" stroke="#231f20" stroke-width="3.9"/>
<polygon points="1745.3,1657.1 1766.39,1635.69 1766.36,1648.1 1775.34,1656.66" fill="#231f20"/>
<text x="1872.14" y="1567.4" font-size="25.2" fill="#1a1a1a" textLength="96.89" lengthAdjust="spacingAndGlyphs">flattened</text>
<rect x="1238.3" y="1486.8" width="787.3" height="441.7" fill="none" stroke="#000" stroke-width="3.6"/>
<line x1="1238.3" y1="1928.5" x2="1238.3" y2="1932.8" stroke="#000" stroke-width="3"/>
<text x="1231.29" y="1965.6" font-size="25.2" fill="#1a1a1a" textLength="14.02" lengthAdjust="spacingAndGlyphs">0</text>
<line x1="1340.81" y1="1928.5" x2="1340.81" y2="1932.8" stroke="#000" stroke-width="3"/>
<text x="1319.65" y="1965.6" font-size="25.2" fill="#1a1a1a" textLength="42.05" lengthAdjust="spacingAndGlyphs">250</text>
<line x1="1443.33" y1="1928.5" x2="1443.33" y2="1932.8" stroke="#000" stroke-width="3"/>
<text x="1422.29" y="1965.6" font-size="25.2" fill="#1a1a1a" textLength="42.05" lengthAdjust="spacingAndGlyphs">500</text>
<line x1="1545.84" y1="1928.5" x2="1545.84" y2="1932.8" stroke="#000" stroke-width="3"/>
<text x="1524.66" y="1965.6" font-size="25.2" fill="#1a1a1a" textLength="42.05" lengthAdjust="spacingAndGlyphs">750</text>
<line x1="1648.35" y1="1928.5" x2="1648.35" y2="1932.8" stroke="#000" stroke-width="3"/>
<text x="1619.85" y="1965.6" font-size="25.2" fill="#1a1a1a" textLength="56.06" lengthAdjust="spacingAndGlyphs">1000</text>
<line x1="1750.87" y1="1928.5" x2="1750.87" y2="1932.8" stroke="#000" stroke-width="3"/>
<text x="1722.37" y="1965.6" font-size="25.2" fill="#1a1a1a" textLength="56.06" lengthAdjust="spacingAndGlyphs">1250</text>
<line x1="1853.38" y1="1928.5" x2="1853.38" y2="1932.8" stroke="#000" stroke-width="3"/>
<text x="1824.88" y="1965.6" font-size="25.2" fill="#1a1a1a" textLength="56.06" lengthAdjust="spacingAndGlyphs">1500</text>
<line x1="1955.89" y1="1928.5" x2="1955.89" y2="1932.8" stroke="#000" stroke-width="3"/>
<text x="1927.39" y="1965.6" font-size="25.2" fill="#1a1a1a" textLength="56.06" lengthAdjust="spacingAndGlyphs">1750</text>
<line x1="1234" y1="1486.8" x2="1238.3" y2="1486.8" stroke="#000" stroke-width="3"/>
<text x="1205.97" y="1495.8" font-size="25.2" fill="#1a1a1a" textLength="14.02" lengthAdjust="spacingAndGlyphs">0</text>
<line x1="1234" y1="1568.81" x2="1238.3" y2="1568.81" stroke="#000" stroke-width="3"/>
<text x="1177.94" y="1577.81" font-size="25.2" fill="#1a1a1a" textLength="42.05" lengthAdjust="spacingAndGlyphs">200</text>
<line x1="1234" y1="1650.82" x2="1238.3" y2="1650.82" stroke="#000" stroke-width="3"/>
<text x="1177.94" y="1659.82" font-size="25.2" fill="#1a1a1a" textLength="42.05" lengthAdjust="spacingAndGlyphs">400</text>
<line x1="1234" y1="1732.83" x2="1238.3" y2="1732.83" stroke="#000" stroke-width="3"/>
<text x="1177.94" y="1741.83" font-size="25.2" fill="#1a1a1a" textLength="42.05" lengthAdjust="spacingAndGlyphs">600</text>
<line x1="1234" y1="1814.84" x2="1238.3" y2="1814.84" stroke="#000" stroke-width="3"/>
<text x="1177.94" y="1823.84" font-size="25.2" fill="#1a1a1a" textLength="42.05" lengthAdjust="spacingAndGlyphs">800</text>
<line x1="1234" y1="1896.85" x2="1238.3" y2="1896.85" stroke="#000" stroke-width="3"/>
<text x="1163.92" y="1905.85" font-size="25.2" fill="#1a1a1a" textLength="56.06" lengthAdjust="spacingAndGlyphs">1000</text>
<text x="1579.25" y="2007" font-size="30" fill="#1a1a1a" textLength="103.49" lengthAdjust="spacingAndGlyphs"><tspan font-style="italic">X</tspan><tspan font-style="normal"> Pixels</tspan></text>
<text transform="translate(1144.5,1707.8) rotate(-90)" x="-53" y="0" font-size="30" fill="#1a1a1a" textLength="104.04" lengthAdjust="spacingAndGlyphs"><tspan font-style="italic">Y</tspan> Pixels</text>
<text x="1410.59" y="1464.4" font-size="30" fill="#1a1a1a" textLength="458.08" lengthAdjust="spacingAndGlyphs">Flattened volcano-shaped potential</text>
<text x="1566.73" y="2049.1" font-size="27.5" fill="#1a1a1a" textLength="119.76" lengthAdjust="spacingAndGlyphs">adiabatic</text>
<text x="1062.32" y="1453.3" font-size="32.5" fill="#231f20" textLength="23.56" lengthAdjust="spacingAndGlyphs" font-weight="bold">g</text>
<rect x="464.6" y="2081.2" width="160" height="189" fill="#e6e7e9"/>
<path d="M478 2081.2 L478 2081.2 C479 2120 483 2170 489.5 2192 C492 2202 494.5 2209.5 497.5 2209.5 C500 2209.5 503 2203 506 2199.5 C525 2176 550 2150 596.7 2128 L596.7 2128 L625 2128 L625 2060 L478 2060 Z" fill="#fff"/>
<path d="M596.7 2128 C597.3 2150 598.3 2185 601.5 2208 C605 2232 611 2252 621 2270 L710 2270 L710 2060 L596.7 2060 Z" fill="#fff"/>
<path d="M599.8 2174.9 L700.4 2174.9 L700.4 2270 L621 2270 C611 2252 605 2232 601.5 2208 C600 2195 599.9 2185 599.8 2174.9 Z" fill="#27a8e0"/>
<path d="M486.3 2174.9 L523.5 2174.9 C512 2186 505 2195 500 2203 C497 2208 495 2209 493 2204 C490 2196 488 2186 486.3 2174.9 Z" fill="url(#hatch)"/>
<path d="M478 2081.2 C479 2120 483 2170 489.5 2192 C492 2202 494.5 2209.5 497.5 2209.5 C500 2209.5 503 2203 506 2199.5 C525 2176 550 2150 596.7 2128" fill="none" stroke="#231f20" stroke-width="3.8" stroke-linejoin="round"/>
<path d="M596.7 2128 C597.3 2150 598.3 2185 601.5 2208 C605 2232 611 2252 621 2270" fill="none" stroke="#231f20" stroke-width="3.8"/>
<path d="M583.3 2121.2 Q562 2128 544 2143" fill="none" stroke="#a0a0a0" stroke-width="1.6" stroke-dasharray="4 3"/>
<polygon points="539.5,2148.5 542.5,2139 548.5,2145" fill="#a0a0a0"/>
<circle cx="529.6" cy="2154.8" r="7.6" fill="none" stroke="#a0a0a0" stroke-width="1.4" stroke-dasharray="3 2.4"/>
<circle cx="593.4" cy="2117.5" r="7.7" fill="#fff" stroke="#231f20" stroke-width="1.6"/>
<rect x="1506.6" y="2097" width="150" height="173" fill="#e6e7e9"/>
<path d="M1516.3 2097 C1516.8 2120 1519 2137 1527.5 2145.5 C1540 2154 1565 2163 1590 2169.5 C1608 2173.5 1625 2174.5 1633.7 2174.3 L1636 2176.5 L1636 2176.5 L1660 2176.5 L1660 2060 L1516.3 2060 Z" fill="#fff"/>
<path d="M1636 2176.5 C1638 2190 1639.5 2210 1641.5 2222 C1643.5 2240 1648 2255 1655.4 2270 L1750 2270 L1750 2060 L1636 2060 Z" fill="#fff"/>
<path d="M1547 2154.3 L1742 2154.3 L1742 2185.4 L1637.5 2185.4 L1636 2176.5 L1633.7 2174.3 C1625 2174.5 1608 2173.5 1590 2169.5 C1575 2165.5 1560 2160 1547 2154.3 Z" fill="url(#hatch)"/>
<path d="M1637.5 2185.4 L1742 2185.4 L1742 2270 L1655.4 2270 C1648 2255 1643.5 2240 1641.5 2222 C1640 2210 1638.7 2197 1637.5 2185.4 Z" fill="#27a8e0"/>
<path d="M1516.3 2097 C1516.8 2120 1519 2137 1527.5 2145.5 C1540 2154 1565 2163 1590 2169.5 C1608 2173.5 1625 2174.5 1633.7 2174.3 L1636 2176.5" fill="none" stroke="#231f20" stroke-width="3.8" stroke-linejoin="round"/>
<path d="M1636 2176.5 C1638 2190 1639.5 2210 1641.5 2222 C1643.5 2240 1648 2255 1655.4 2270" fill="none" stroke="#231f20" stroke-width="3.8"/>
</svg>
</body></html>
